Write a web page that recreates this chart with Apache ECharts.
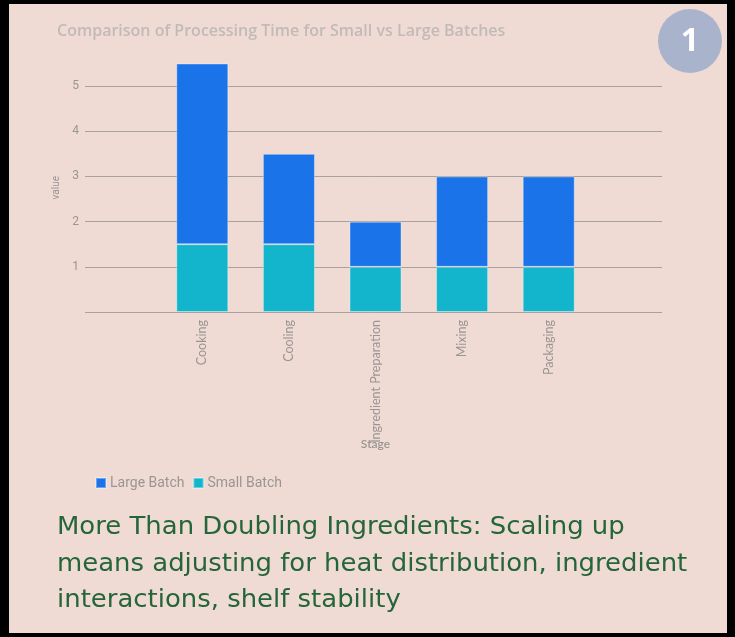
<!DOCTYPE html>
<html>
<head>
<meta charset="utf-8">
<script src="https://cdn.jsdelivr.net/npm/echarts@6/dist/echarts.min.js"></script>
<style>
  html, body { margin: 0; padding: 0; background: #000; }
  #chart { width: 735px; height: 637px; }
</style>
</head>
<body>
<div id="chart"></div>
<script>
// Processing stages and time per batch size
const stages = ['Cooking', 'Cooling', 'Ingredient Preparation', 'Mixing', 'Packaging'];
const smallBatch = [1.5, 1.5, 1, 1, 1];
const largeBatch = [4, 2, 1, 2, 2];
const yTicks = [1, 2, 3, 4, 5];

const labelGray = '#9a9592';
const lineGray = '#a8a19e';

const chart = echarts.init(document.getElementById('chart'));
chart.setOption({
  backgroundColor: '#000',
  animation: false,
  title: {
    text: 'Comparison of Processing Time for Small vs Large Batches',
    left: 52, top: 18,
    textStyle: { fontFamily: 'Open Sans', fontSize: 16, fontWeight: 600, color: '#c2bab7' }
  },
  legend: {
    left: 90, top: 471,
    itemWidth: 10, itemHeight: 10, itemGap: 8,
    icon: 'rect',
    textStyle: { fontFamily: 'Roboto', fontSize: 14, color: labelGray, padding: [0, 0, 0, -1] },
    data: ['Large Batch', 'Small Batch']
  },
  grid: [
    // full-width grid carrying the value gridlines
    { left: 85, right: 73, top: 63.5, bottom: 325 },
    // bars
    { left: 159, right: 143, top: 63.5, bottom: 325 }
  ],
  xAxis: [
    { gridIndex: 0, type: 'value', show: false, min: 0, max: 1 },
    {
      gridIndex: 1, type: 'category', data: stages,
      name: 'Stage', nameLocation: 'middle', nameGap: 126, nameMoveOverlap: false,
      nameTextStyle: { fontFamily: 'Lato', fontSize: 12, fontWeight: 600, color: labelGray },
      axisLine: { show: false }, axisTick: { show: false },
      axisLabel: { rotate: 90, interval: 0, margin: 8, fontFamily: 'Lato', fontSize: 12.5, color: labelGray }
    }
  ],
  yAxis: [
    {
      gridIndex: 0, type: 'value', min: 0, max: 5.5, interval: 1,
      name: 'value', nameLocation: 'middle', nameGap: 14,
      nameTextStyle: { fontFamily: 'Roboto', fontSize: 10, color: labelGray },
      axisLine: { show: false }, axisTick: { show: false },
      axisLabel: {
        showMaxLabel: false, showMinLabel: false, margin: 6, fontFamily: 'Roboto', fontSize: 12, color: labelGray,
        formatter: v => yTicks.includes(v) ? String(v) : ''
      },
      splitLine: { show: true, showMaxLine: false, lineStyle: { color: lineGray, width: 1 } }
    },
    { gridIndex: 1, type: 'value', min: 0, max: 5.5, show: false, splitLine: { show: false } }
  ],
  series: [
    {
      name: 'Small Batch', type: 'bar', stack: 'time',
      xAxisIndex: 1, yAxisIndex: 1, barWidth: 52,
      itemStyle: { color: '#12b5cb', borderColor: 'rgba(255,255,255,0.35)', borderWidth: 1 },
      data: smallBatch
    },
    {
      name: 'Large Batch', type: 'bar', stack: 'time',
      xAxisIndex: 1, yAxisIndex: 1, barWidth: 52,
      itemStyle: { color: '#1a73e8', borderColor: 'rgba(255,255,255,0.35)', borderWidth: 1 },
      data: largeBatch
    }
  ],
  graphic: [
    { type: 'rect', z: -10, shape: { x: 9, y: 4, width: 718, height: 629 }, style: { fill: '#efdbd4' } },
    { type: 'circle', z: 10, shape: { cx: 690, cy: 41, r: 32 }, style: { fill: '#a9b4cc' } },
    {
      type: 'text', z: 11, x: 690, y: 42,
      style: { text: '1', fill: '#ffffff', font: 'bold 32px "Open Sans"', align: 'center', verticalAlign: 'middle' }
    },
    {
      type: 'text', z: 11, x: 57, y: 510, scaleX: 1.08,
      style: {
        text: 'More Than Doubling Ingredients: Scaling up\nmeans adjusting for heat distribution, ingredient\ninteractions, shelf stability',
        fill: '#25653a', font: '24px "DejaVu Sans"', lineHeight: 36.5
      }
    }
  ]
});
</script>
</body>
</html>
